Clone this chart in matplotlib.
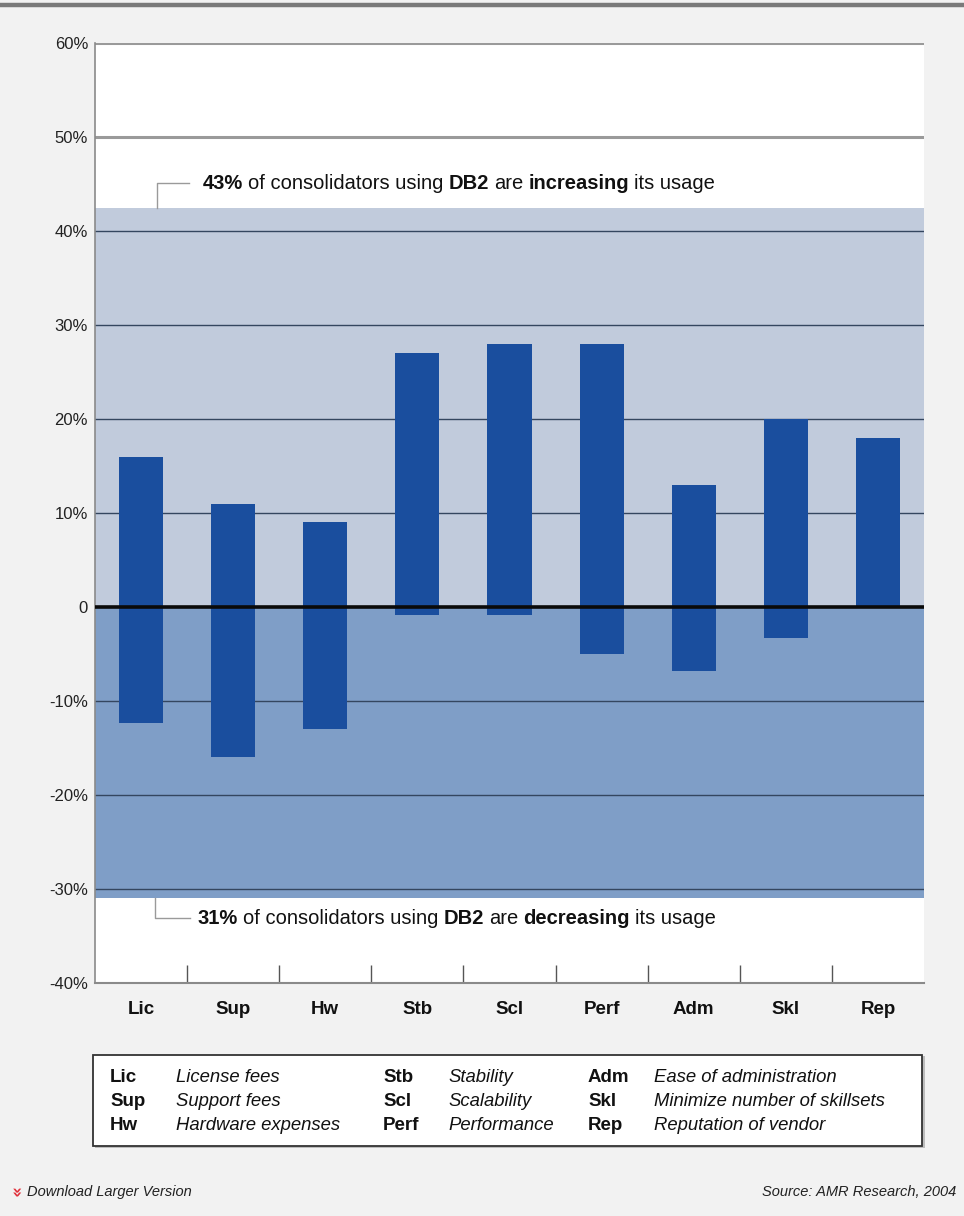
import matplotlib
matplotlib.use("Agg")
import matplotlib.pyplot as plt
import numpy as np
from matplotlib.patches import Rectangle
from matplotlib.lines import Line2D

plt.rcParams['font.family'] = ['Liberation Sans', 'DejaVu Sans']

# ---- data ----
categories = ["Lic", "Sup", "Hw", "Stb", "Scl", "Perf", "Adm", "Skl", "Rep"]
increasing = [16, 11, 9, 27, 28, 28, 13, 20, 18]
decreasing = [-12.3, -16, -13, -0.8, -0.8, -5, -6.8, -3.3, 0]
band_increasing = 42.5
band_decreasing = -31
yticks = [-40, -30, -20, -10, 0, 10, 20, 30, 40, 50, 60]
ytick_labels = ["-40%", "-30%", "-20%", "-10%", "0", "10%", "20%", "30%", "40%", "50%", "60%"]
legend_abbr = ["Lic", "Sup", "Hw", "Stb", "Scl", "Perf", "Adm", "Skl", "Rep"]
legend_desc = ["License fees", "Support fees", "Hardware expenses",
               "Stability", "Scalability", "Performance",
               "Ease of administration", "Minimize number of skillsets", "Reputation of vendor"]
note_up = [("43%", True), ("of consolidators using", False), ("DB2", True), ("are", False),
           ("increasing", True), ("its usage", False)]
note_down = [("31%", True), ("of consolidators using", False), ("DB2", True), ("are", False),
             ("decreasing", True), ("its usage", False)]

W, H = 964, 1216
fig = plt.figure(figsize=(W / 100, H / 100), dpi=100, facecolor="#f2f2f2")

def fx(px):
    return px / W

def fy(py):
    return 1 - py / H

# top border line
fig.add_artist(Line2D([0, 1], [fy(5), fy(5)], color="#7a7a7a", lw=3.2))

ax = fig.add_axes([fx(95), fy(983), fx(924) - fx(95), fy(43) - fy(983)])
ax.set_facecolor("white")
ax.set_xlim(-0.5, 8.5)
ax.set_ylim(-40, 60)

ax.axhspan(0, band_increasing, color="#c1cbdc", lw=0, zorder=0.5)
ax.axhspan(band_decreasing, 0, color="#7f9ec7", lw=0, zorder=0.5)

# grid lines
for t in yticks:
    if t == 0 or t == -40:
        continue
    if band_decreasing < t < band_increasing:
        ax.axhline(t, color="#34465f", lw=1.0, zorder=1)
    else:
        ax.axhline(t, color="#9a9a9a", lw=2.2, zorder=1)

x = np.arange(len(categories))
ax.bar(x, increasing, width=0.48, color="#1a4e9e", zorder=2)
ax.bar(x, decreasing, width=0.48, color="#1a4e9e", zorder=2)
ax.axhline(0, color="#0a0a0a", lw=2.6, zorder=3)

for s in ["top", "right"]:
    ax.spines[s].set_visible(False)
ax.spines["left"].set_color("#8a8a8a")
ax.spines["left"].set_linewidth(1.2)
ax.spines["bottom"].set_color("#8a8a8a")
ax.spines["bottom"].set_linewidth(1.5)

ax.set_yticks(yticks)
ax.set_yticklabels(ytick_labels, fontsize=12, color="#222222")
ax.tick_params(axis="y", length=0, pad=5)
ax.set_xticks(x)
ax.set_xticklabels(categories, fontsize=13.5, fontweight="bold", color="#111111")
ax.tick_params(axis="x", which="major", length=0, pad=13)
ax.set_xticks(np.arange(0.5, 8.5, 1.0), minor=True)
ax.tick_params(axis="x", which="minor", direction="in", length=13, width=1.0, color="#555555")

# bracket annotations
ax.plot([0.173, 0.173, 0.52], [band_increasing, 45.1, 45.1], color="#9a9a9a", lw=1, clip_on=False, zorder=4)
ax.plot([0.15, 0.15, 0.53], [band_decreasing, -33.1, -33.1], color="#9a9a9a", lw=1, clip_on=False, zorder=4)

fig.canvas.draw()
renderer = fig.canvas.get_renderer()

def rich_text(pieces, x0_px, ybase_px, size):
    xcur = x0_px
    space = 0.25 * size * 100 / 72
    for txt, bold in pieces:
        t = fig.text(fx(xcur), fy(ybase_px), txt, fontsize=size,
                     fontweight="bold" if bold else "normal", color="#111111",
                     va="baseline", ha="left")
        bb = t.get_window_extent(renderer=renderer)
        xcur += bb.width + space

rich_text(note_up, 203, 189, 14.5)
rich_text(note_down, 198, 924, 14.5)

# legend box
fig.add_artist(Rectangle((fx(95), fy(1148)), fx(925) - fx(95), fy(1056) - fy(1148),
                         facecolor="#bdbdbd", edgecolor="none", transform=fig.transFigure))
fig.add_artist(Rectangle((fx(93), fy(1146)), fx(922) - fx(93), fy(1055) - fy(1146),
                         facecolor="white", edgecolor="#333333", lw=1.3, transform=fig.transFigure))
abbr_x = [110, 383, 588]
desc_x = [176, 448, 654]
row_y = [1077, 1101, 1125]
for i, (a, d) in enumerate(zip(legend_abbr, legend_desc)):
    col, row = divmod(i, 3)
    fig.text(fx(abbr_x[col]), fy(row_y[row]), a, fontsize=13.5, fontweight="bold",
             va="center", ha="left", color="#111111")
    fig.text(fx(desc_x[col]), fy(row_y[row]), d, fontsize=13.3, style="italic",
             va="center", ha="left", color="#111111")

# footer
fig.text(fx(14), fy(1192), "\u00bb", fontsize=12, fontweight="bold", color="#e0303a",
         rotation=-90, va="center", ha="center", family="DejaVu Sans")
fig.text(fx(27), fy(1192), "Download Larger Version", fontsize=10.5, style="italic",
         va="center", ha="left", color="#222222")
fig.text(fx(956), fy(1192), "Source: AMR Research, 2004", fontsize=10.5, style="italic",
         va="center", ha="right", color="#222222")

fig.savefig("out.png", dpi=100, facecolor=fig.get_facecolor())
